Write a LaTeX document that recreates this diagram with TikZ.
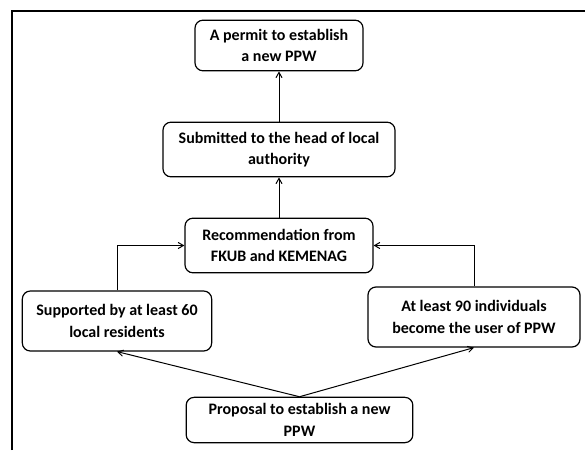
\documentclass[tikz,border=0pt]{standalone}
\usepackage{fontspec}
\setmainfont{Carlito}
\usepackage{tikz}
\usetikzlibrary{arrows,positioning}
\tikzset{font=\fontsize{12}{16}\selectfont\bfseries}
\tikzstyle{stage}=[draw,rounded corners=6pt,line width=0.9pt,align=center,inner sep=2pt]
\begin{document}
\begin{tikzpicture}[x=0.75pt,y=-0.75pt]
\useasboundingbox (0,0) rectangle (585,450);
% frame
\draw[line width=1.2pt] (12,450) -- (12,11) -- (585,11);
\node[stage,minimum width=126pt,minimum height=38pt] (A) at (279,45.5) {A permit to establish\\a new PPW};
\node[stage,minimum width=174pt,minimum height=41pt] (B) at (279,149.5) {Submitted to the head of local\\authority};
\node[stage,minimum width=141pt,minimum height=41pt] (C) at (279,245.5) {Recommendation from\\FKUB and KEMENAG};
\node[stage,minimum width=142pt,minimum height=45pt] (D) at (117,321) {Supported by at least 60\\local residents};
\node[stage,minimum width=159pt,minimum height=45pt] (E) at (474,317) {At least 90 individuals\\become the user of PPW};
\node[stage,minimum width=170pt,minimum height=34pt] (F) at (299.5,420) {Proposal to establish a new\\PPW};
\path[->,>=angle 60,line width=0.75pt]
(B) edge (A)
(C) edge (B)
(F.north) edge (D.south)
(F.north) edge (E.south);
\draw[->,>=angle 60,line width=0.75pt] (D.north) |- (C.west);
\draw[->,>=angle 60,line width=0.75pt] (E.north) |- (C.east);
%(F) edge (C)
\end{tikzpicture}
\end{document}
